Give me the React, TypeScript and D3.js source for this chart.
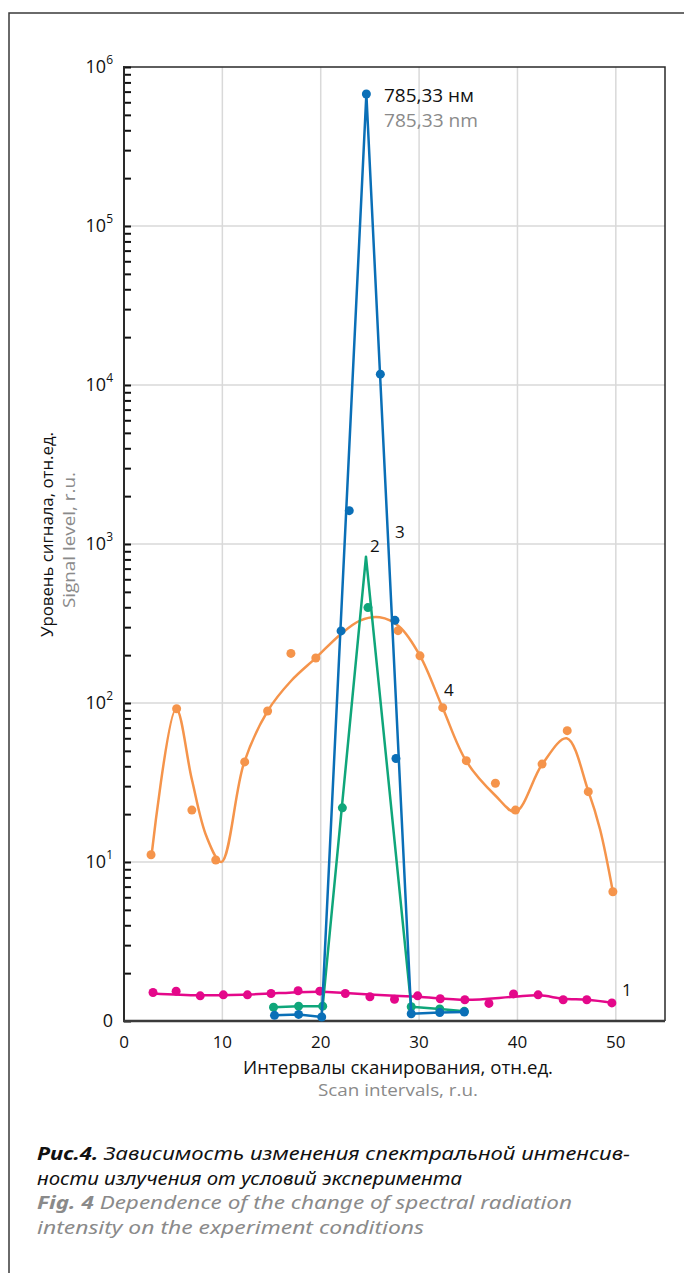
import { useEffect, useRef } from "react";
import * as d3 from "d3";

// tick labels
const scanTicks = [0, 10, 20, 30, 40, 50];
const decades = [0, 1, 2, 3, 4, 5, 6];

// 1 - pink
const pinkX = [2.95, 5.3, 7.75, 10.1, 12.55, 14.95, 17.7, 19.9, 22.5, 25.0, 27.5, 29.85, 32.15, 34.65, 37.1, 39.6, 42.1, 44.65, 47.05, 49.6];
const pinkY = [1.51, 1.54, 1.44, 1.46, 1.46, 1.49, 1.55, 1.54, 1.49, 1.42, 1.37, 1.44, 1.38, 1.36, 1.29, 1.48, 1.46, 1.36, 1.36, 1.3];
const pinkFitX = [2.95, 7.7, 12.8, 19.9, 22.5, 27.5, 29.9, 34.8, 39.6, 42.2, 44.7, 47.1, 49.7];
const pinkFitY = [1.49, 1.45, 1.47, 1.53, 1.5, 1.44, 1.42, 1.36, 1.42, 1.45, 1.38, 1.36, 1.3];

// 2 - green
const greenDotX = [15.2, 17.75, 20.2, 22.2, 24.8, 29.2, 32.1, 34.6];
const greenDotY = [1.22, 1.24, 1.24, 21.9, 398, 1.23, 1.19, 1.15];
const greenLineX = [15.2, 17.75, 20.2, 24.6, 29.2, 32.1, 34.6];
const greenLineY = [1.22, 1.24, 1.24, 832, 1.23, 1.19, 1.15];

// 3 - blue
const blueDotX = [15.3, 17.75, 20.1, 22.07, 22.9, 24.64, 26.06, 27.55, 27.65, 29.2, 32.1, 34.6];
const blueDotY = [1.085, 1.1, 1.06, 284, 1620, 676000, 11700, 331, 44.8, 1.11, 1.13, 1.14];
const blueLineX = [15.3, 17.75, 20.1, 24.64, 29.2, 32.1, 34.6];
const blueLineY = [1.085, 1.1, 1.06, 676000, 1.11, 1.13, 1.14];

// 4 - orange
const orangeDotX = [2.75, 5.35, 6.9, 9.33, 12.27, 14.6, 16.97, 19.5, 27.86, 30.09, 32.4, 34.8, 37.76, 39.8, 42.5, 45.06, 47.2, 49.7];
const orangeDotY = [11.1, 92, 21.2, 10.3, 42.6, 89, 205, 192, 285, 198, 93.5, 43.4, 31.3, 21.2, 41.3, 67, 27.7, 6.5];
const orangeFitX = [2.8, 5.3, 6.9, 8.4, 9.9, 12.2, 14.6, 17, 19.5, 22, 24, 26, 28, 30.1, 32.4, 34.8, 37.8, 39.8, 42.5, 45, 47.2, 48.4, 49.7];
const orangeFitY = [11, 92, 33, 14.4, 10, 42, 89, 138, 192, 270, 330, 346, 302, 198, 93, 43, 26, 20.7, 41, 60, 28, 16, 6.5];

const BLUE = "#0a6fb7";
const GREEN = "#0fa67a";
const ORANGE = "#f5944b";
const PINK = "#e4088a";
const FONT = "'Open Sans', 'Noto Sans', sans-serif";

function App() {
  const ref = useRef(null);

  useEffect(() => {
    const svg = d3.select(ref.current);
    svg.selectAll("*").remove();

    const x = d3.scaleLinear().domain([0, 55]).range([124, 665]);
    const y = d3.scaleLog().domain([1, 1e6]).range([1021, 67]);

    // outer frame
    svg.append("path").attr("d", "M9,1273V13H684").attr("fill", "none").attr("stroke", "#3a3a3a").attr("stroke-width", 1.5);

    // grid
    svg.append("g").selectAll("line").data(scanTicks.slice(1)).join("line")
      .attr("x1", d => x(d)).attr("x2", d => x(d)).attr("y1", 67).attr("y2", 1021)
      .attr("stroke", "#d9d9d9").attr("stroke-width", 1.5);
    svg.append("g").selectAll("line").data(decades.slice(1, 6)).join("line")
      .attr("x1", 124).attr("x2", 665).attr("y1", d => y(Math.pow(10, d))).attr("y2", d => y(Math.pow(10, d)))
      .attr("stroke", "#d9d9d9").attr("stroke-width", 1.5);

    // plot border
    svg.append("path").attr("d", "M124,67H665V1021").attr("fill", "none").attr("stroke", "#2a2a2a").attr("stroke-width", 1.5);

    // y axis with log minor ticks pointing inward
    const yAxis = d3.axisRight(y).tickValues(y.ticks()).tickSize(7).tickFormat(() => "");
    const ya = svg.append("g").attr("transform", "translate(124,0)").call(yAxis);
    ya.select(".domain").remove();
    ya.selectAll("line").attr("stroke", "#111").attr("stroke-width", 2);
    svg.append("line").attr("x1", 124).attr("x2", 124).attr("y1", 66).attr("y2", 1022).attr("stroke", "#2a2a2a").attr("stroke-width", 2);
    svg.append("line").attr("x1", 123).attr("x2", 665).attr("y1", 1021).attr("y2", 1021).attr("stroke", "#3a3a3a").attr("stroke-width", 2.5);

    // y tick labels
    const yl = svg.append("g").attr("font-family", FONT).attr("fill", "#111");
    decades.forEach(p => {
      const t = yl.append("text").attr("x", 113).attr("y", y(Math.pow(10, p)) + 6).attr("text-anchor", "end").attr("font-size", 18);
      if (p === 0) {
        t.text("0");
      } else {
        t.append("tspan").text("10");
        t.append("tspan").attr("font-size", 12).attr("dy", -9).text(String(p));
      }
    });

    // x tick labels
    svg.append("g").selectAll("text").data(scanTicks).join("text")
      .attr("x", d => x(d)).attr("y", 1048).attr("text-anchor", "middle")
      .attr("font-family", FONT).attr("font-size", 17).attr("fill", "#111")
      .text(d => d);

    // axis titles
    svg.append("text").attr("x", 243).attr("y", 1074)
      .attr("textLength", 310).attr("lengthAdjust", "spacingAndGlyphs")
      .attr("font-family", FONT).attr("font-size", 17.5).attr("fill", "#111").text("Интервалы сканирования, отн.ед.");
    svg.append("text").attr("x", 318).attr("y", 1096)
      .attr("textLength", 160).attr("lengthAdjust", "spacingAndGlyphs")
      .attr("font-family", FONT).attr("font-size", 17).attr("fill", "#8a8a8a").text("Scan intervals, r.u.");
    svg.append("text").attr("transform", "translate(53,637) rotate(-90)")
      .attr("textLength", 205).attr("lengthAdjust", "spacingAndGlyphs")
      .attr("font-family", FONT).attr("font-size", 17).attr("fill", "#111").text("Уровень сигнала, отн.ед.");
    svg.append("text").attr("transform", "translate(75,608) rotate(-90)")
      .attr("textLength", 136).attr("lengthAdjust", "spacingAndGlyphs")
      .attr("font-family", FONT).attr("font-size", 17).attr("fill", "#8a8a8a").text("Signal level, r.u.");

    const pts = (xs, ys) => xs.map((v, i) => [v, ys[i]]);
    const straight = d3.line().x(d => x(d[0])).y(d => y(d[1]));
    const smooth = d3.line().x(d => x(d[0])).y(d => y(d[1])).curve(d3.curveCatmullRom.alpha(0.5));

    const drawSeries = (lineData, gen, dots, color) => {
      svg.append("path").datum(lineData).attr("d", gen).attr("fill", "none")
        .attr("stroke", color).attr("stroke-width", 2.5).attr("stroke-linejoin", "round");
      svg.append("g").selectAll("circle").data(dots).join("circle")
        .attr("cx", d => x(d[0])).attr("cy", d => y(d[1])).attr("r", 4.5).attr("fill", color);
    };

    drawSeries(pts(pinkFitX, pinkFitY), smooth, pts(pinkX, pinkY), PINK);
    drawSeries(pts(orangeFitX, orangeFitY), smooth, pts(orangeDotX, orangeDotY), ORANGE);
    drawSeries(pts(greenLineX, greenLineY), straight, pts(greenDotX, greenDotY), GREEN);
    drawSeries(pts(blueLineX, blueLineY), straight, pts(blueDotX, blueDotY), BLUE);

    // series labels
    const lab = svg.append("g").attr("font-family", FONT).attr("font-size", 17).attr("fill", "#111");
    lab.append("text").attr("x", 622).attr("y", 996).text("1");
    lab.append("text").attr("x", 370).attr("y", 552).text("2");
    lab.append("text").attr("x", 395).attr("y", 538).text("3");
    lab.append("text").attr("x", 444).attr("y", 696).text("4");

    // peak annotation
    lab.append("text").attr("x", 384).attr("y", 102).attr("font-size", 17.5)
      .attr("textLength", 90).attr("lengthAdjust", "spacingAndGlyphs").text("785,33 нм");
    lab.append("text").attr("x", 384).attr("y", 127).attr("font-size", 17.5).attr("fill", "#8a8a8a")
      .attr("textLength", 94).attr("lengthAdjust", "spacingAndGlyphs").text("785,33 nm");

    // caption
    const cap = svg.append("g").attr("font-family", "'Noto Sans', sans-serif").attr("font-style", "italic").attr("font-size", 18.5);
    const l1 = cap.append("text").attr("x", 37).attr("y", 1160).attr("fill", "#111")
      .attr("textLength", 593).attr("lengthAdjust", "spacingAndGlyphs");
    l1.append("tspan").attr("font-weight", "bold").text("Рис.4.");
    l1.append("tspan").text(" Зависимость изменения спектральной интенсив-");
    cap.append("text").attr("x", 37).attr("y", 1185).attr("fill", "#111")
      .attr("textLength", 425).attr("lengthAdjust", "spacingAndGlyphs").text("ности излучения от условий эксперимента");
    const l3 = cap.append("text").attr("x", 37).attr("y", 1209).attr("fill", "#8a8a8a")
      .attr("textLength", 535).attr("lengthAdjust", "spacingAndGlyphs");
    l3.append("tspan").attr("font-weight", "bold").text("Fig. 4");
    l3.append("tspan").text(" Dependence of the change of spectral radiation");
    cap.append("text").attr("x", 37).attr("y", 1234).attr("fill", "#8a8a8a")
      .attr("textLength", 387).attr("lengthAdjust", "spacingAndGlyphs").text("intensity on the experiment conditions");
  }, []);

  return <svg ref={ref} width={684} height={1273} style={{ position: "absolute", left: 0, top: 0 }}></svg>;
}

export default App;
